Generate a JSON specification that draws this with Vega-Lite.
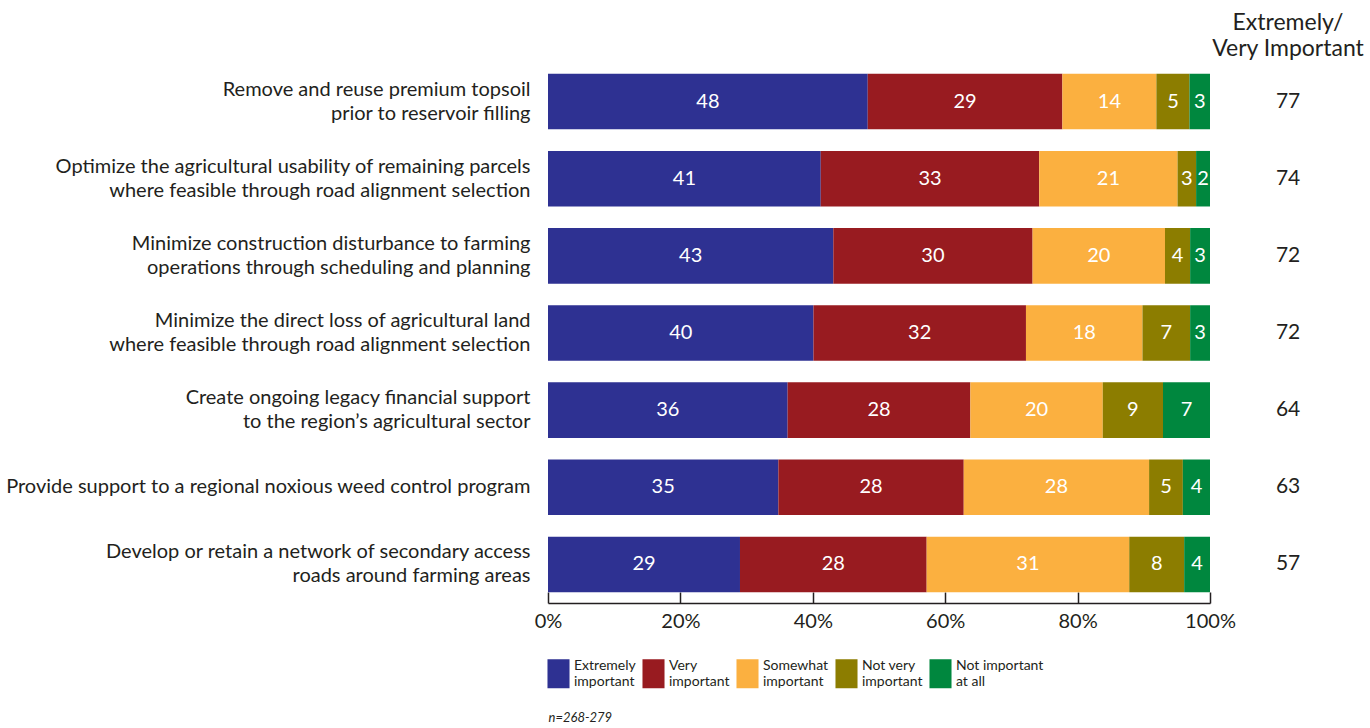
{
  "$schema": "https://vega.github.io/schema/vega-lite/v6.json",
  "autosize": {"type": "none"},
  "width": 662,
  "height": 540,
  "padding": {"left": 548, "top": 63, "right": 160, "bottom": 125},
  "background": "white",
  "config": {
    "font": "Lato",
    "view": {"stroke": null},
    "axis": {"labelColor": "#231F20", "titleColor": "#231F20"}
  },
  "title": {
    "text": ["Extremely/", "Very Important"],
    "anchor": "end",
    "align": "center",
    "frame": "group",
    "dx": 78,
    "offset": 2,
    "fontSize": 23,
    "fontWeight": "normal",
    "lineHeight": 26,
    "color": "#231F20",
    "font": "Lato"
  },
  "datasets": {
    "shares": [
      {"item": "Remove and reuse premium topsoil\nprior to reservoir filling", "level": "Extremely important", "value": 48.3},
      {"item": "Remove and reuse premium topsoil\nprior to reservoir filling", "level": "Very important", "value": 29.4},
      {"item": "Remove and reuse premium topsoil\nprior to reservoir filling", "level": "Somewhat important", "value": 14.2},
      {"item": "Remove and reuse premium topsoil\nprior to reservoir filling", "level": "Not very important", "value": 5.0},
      {"item": "Remove and reuse premium topsoil\nprior to reservoir filling", "level": "Not important at all", "value": 3.1},
      {"item": "Optimize the agricultural usability of remaining parcels\nwhere feasible through road alignment selection", "level": "Extremely important", "value": 41.2},
      {"item": "Optimize the agricultural usability of remaining parcels\nwhere feasible through road alignment selection", "level": "Very important", "value": 33.0},
      {"item": "Optimize the agricultural usability of remaining parcels\nwhere feasible through road alignment selection", "level": "Somewhat important", "value": 20.9},
      {"item": "Optimize the agricultural usability of remaining parcels\nwhere feasible through road alignment selection", "level": "Not very important", "value": 2.8},
      {"item": "Optimize the agricultural usability of remaining parcels\nwhere feasible through road alignment selection", "level": "Not important at all", "value": 2.1},
      {"item": "Minimize construction disturbance to farming\noperations through scheduling and planning", "level": "Extremely important", "value": 43.1},
      {"item": "Minimize construction disturbance to farming\noperations through scheduling and planning", "level": "Very important", "value": 30.1},
      {"item": "Minimize construction disturbance to farming\noperations through scheduling and planning", "level": "Somewhat important", "value": 20.0},
      {"item": "Minimize construction disturbance to farming\noperations through scheduling and planning", "level": "Not very important", "value": 3.8},
      {"item": "Minimize construction disturbance to farming\noperations through scheduling and planning", "level": "Not important at all", "value": 3.0},
      {"item": "Minimize the direct loss of agricultural land\nwhere feasible through road alignment selection", "level": "Extremely important", "value": 40.1},
      {"item": "Minimize the direct loss of agricultural land\nwhere feasible through road alignment selection", "level": "Very important", "value": 32.1},
      {"item": "Minimize the direct loss of agricultural land\nwhere feasible through road alignment selection", "level": "Somewhat important", "value": 17.6},
      {"item": "Minimize the direct loss of agricultural land\nwhere feasible through road alignment selection", "level": "Not very important", "value": 7.2},
      {"item": "Minimize the direct loss of agricultural land\nwhere feasible through road alignment selection", "level": "Not important at all", "value": 3.0},
      {"item": "Create ongoing legacy financial support\nto the region’s agricultural sector", "level": "Extremely important", "value": 36.2},
      {"item": "Create ongoing legacy financial support\nto the region’s agricultural sector", "level": "Very important", "value": 27.6},
      {"item": "Create ongoing legacy financial support\nto the region’s agricultural sector", "level": "Somewhat important", "value": 20.0},
      {"item": "Create ongoing legacy financial support\nto the region’s agricultural sector", "level": "Not very important", "value": 9.1},
      {"item": "Create ongoing legacy financial support\nto the region’s agricultural sector", "level": "Not important at all", "value": 7.1},
      {"item": "Provide support to a regional noxious weed control program", "level": "Extremely important", "value": 34.8},
      {"item": "Provide support to a regional noxious weed control program", "level": "Very important", "value": 28.0},
      {"item": "Provide support to a regional noxious weed control program", "level": "Somewhat important", "value": 28.0},
      {"item": "Provide support to a regional noxious weed control program", "level": "Not very important", "value": 5.1},
      {"item": "Provide support to a regional noxious weed control program", "level": "Not important at all", "value": 4.1},
      {"item": "Develop or retain a network of secondary access\nroads around farming areas", "level": "Extremely important", "value": 29.0},
      {"item": "Develop or retain a network of secondary access\nroads around farming areas", "level": "Very important", "value": 28.2},
      {"item": "Develop or retain a network of secondary access\nroads around farming areas", "level": "Somewhat important", "value": 30.6},
      {"item": "Develop or retain a network of secondary access\nroads around farming areas", "level": "Not very important", "value": 8.3},
      {"item": "Develop or retain a network of secondary access\nroads around farming areas", "level": "Not important at all", "value": 3.9}
    ],
    "totals": [
      {"item": "Remove and reuse premium topsoil\nprior to reservoir filling", "ev": 77},
      {"item": "Optimize the agricultural usability of remaining parcels\nwhere feasible through road alignment selection", "ev": 74},
      {"item": "Minimize construction disturbance to farming\noperations through scheduling and planning", "ev": 72},
      {"item": "Minimize the direct loss of agricultural land\nwhere feasible through road alignment selection", "ev": 72},
      {"item": "Create ongoing legacy financial support\nto the region’s agricultural sector", "ev": 64},
      {"item": "Provide support to a regional noxious weed control program", "ev": 63},
      {"item": "Develop or retain a network of secondary access\nroads around farming areas", "ev": 57}
    ]
  },
  "layer": [
    {
      "data": {"name": "shares"},
      "transform": [
        {"calculate": "indexof(['Extremely important','Very important','Somewhat important','Not very important','Not important at all'], datum.level)", "as": "rank"},
        {"stack": "value", "groupby": ["item"], "sort": [{"field": "rank", "order": "ascending"}], "as": ["v0", "v1"]},
        {"calculate": "(datum.v0 + datum.v1) / 2", "as": "vmid"}
      ],
      "layer": [
        {
          "mark": {"type": "bar"},
          "encoding": {
            "y": {
              "field": "item", "type": "nominal", "sort": null,
              "scale": {"paddingInner": 0.28, "paddingOuter": 0.14},
              "axis": {
                "title": null, "domain": false, "ticks": false,
                "labelPadding": 18, "labelFontSize": 20, "labelLineHeight": 24,
                "labelLimit": 600,
                "labelBaseline": {"condition": {"test": "indexof(datum.value, '\\n') >= 0", "value": "line-bottom"}, "value": "middle"},
                "labelExpr": "split(datum.label, '\\n')"
              }
            },
            "x": {
              "field": "v0", "type": "quantitative",
              "scale": {"domain": [0, 100], "nice": false},
              "axis": {
                "title": "n=268-279",
                "titleFontStyle": "italic", "titleFontWeight": "normal", "titleFontSize": 13,
                "titleAnchor": "start", "titleAlign": "left", "titlePadding": 80,
                "values": [0, 20, 40, 60, 80, 100],
                "labelExpr": "datum.value + '%'",
                "labelFlush": false,
                "labelFontSize": 20, "labelPadding": 19,
                "grid": false,
                "domainColor": "#231F20", "domainWidth": 1.5,
                "tickColor": "#231F20", "tickWidth": 1.5, "tickSize": -11
              }
            },
            "x2": {"field": "v1"},
            "color": {
              "field": "level", "type": "nominal",
              "scale": {
                "domain": ["Extremely important", "Very important", "Somewhat important", "Not very important", "Not important at all"],
                "range": ["#2E3192", "#981B20", "#FBB040", "#8C7D00", "#00873E"]
              },
              "legend": {
                "title": null,
                "orient": "none",
                "direction": "horizontal",
                "legendX": -4,
                "legendY": 596,
                "columns": 5,
                "padding": 0,
                "symbolType": "M-0.76,-1H0.76V1H-0.76Z",
                "symbolSize": 841,
                "symbolStrokeWidth": 0,
                "symbolOpacity": 1,
                "labelFontSize": 14,
                "labelLineHeight": 18,
                "labelBaseline": "line-bottom",
                "labelColor": "#231F20",
                "labelOffset": 1,
                "columnPadding": 3,
                "labelExpr": "datum.label == 'Not important at all' ? ['Not important', 'at all'] : datum.label == 'Not very important' ? ['Not very', 'important'] : split(datum.label, ' ')"
              }
            }
          }
        },
        {
          "mark": {"type": "text", "color": "white", "fontSize": 20, "baseline": "middle"},
          "encoding": {
            "y": {"field": "item", "type": "nominal", "sort": null},
            "x": {"field": "vmid", "type": "quantitative"},
            "text": {"field": "value", "type": "quantitative", "format": ".0f"}
          }
        }
      ]
    },
    {
      "data": {"name": "totals"},
      "mark": {"type": "text", "color": "#231F20", "fontSize": 21, "baseline": "middle"},
      "encoding": {
        "y": {"field": "item", "type": "nominal", "sort": null},
        "x": {"datum": 111.8},
        "text": {"field": "ev", "type": "quantitative"}
      }
    }
  ]
}
